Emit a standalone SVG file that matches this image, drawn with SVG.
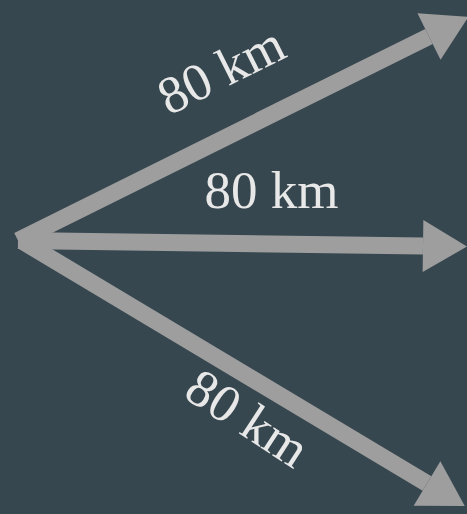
<svg xmlns="http://www.w3.org/2000/svg" width="467" height="514" viewBox="0 0 467 514">
  <defs>
    <marker id="head" markerUnits="userSpaceOnUse" markerWidth="44" markerHeight="52" refX="0" refY="26" orient="auto" overflow="visible">
      <path d="M0,0 L44,26 L0,52 Z" fill="#9e9e9e"/>
    </marker>
    <style>
      .arrow { stroke: #9e9e9e; stroke-width: 17; stroke-linecap: butt; fill: none; marker-end: url(#head); }
      .label { font-family: "Liberation Serif", "Times New Roman", serif; font-size: 53px; fill: #e8e8e8; text-anchor: middle; }
    </style>
  </defs>
  <rect x="0" y="0" width="467" height="514" fill="#37474f"/>
  <g id="connectors">
    <line class="arrow" x1="22" y1="241" x2="427" y2="483.5"/>
    <line class="arrow" x1="18" y1="240.5" x2="423" y2="246"/>
    <line class="arrow" x1="18" y1="240.5" x2="429" y2="36.5"/>
  </g>
  <g id="label-top">
    <text class="label" transform="translate(229,86) rotate(-26.5)">80 km</text>
  </g>
  <g id="label-middle">
    <text class="label" x="271.5" y="208">80 km</text>
  </g>
  <g id="label-bottom">
    <text class="label" transform="translate(238,433) rotate(33)">80 km</text>
  </g>
</svg>
